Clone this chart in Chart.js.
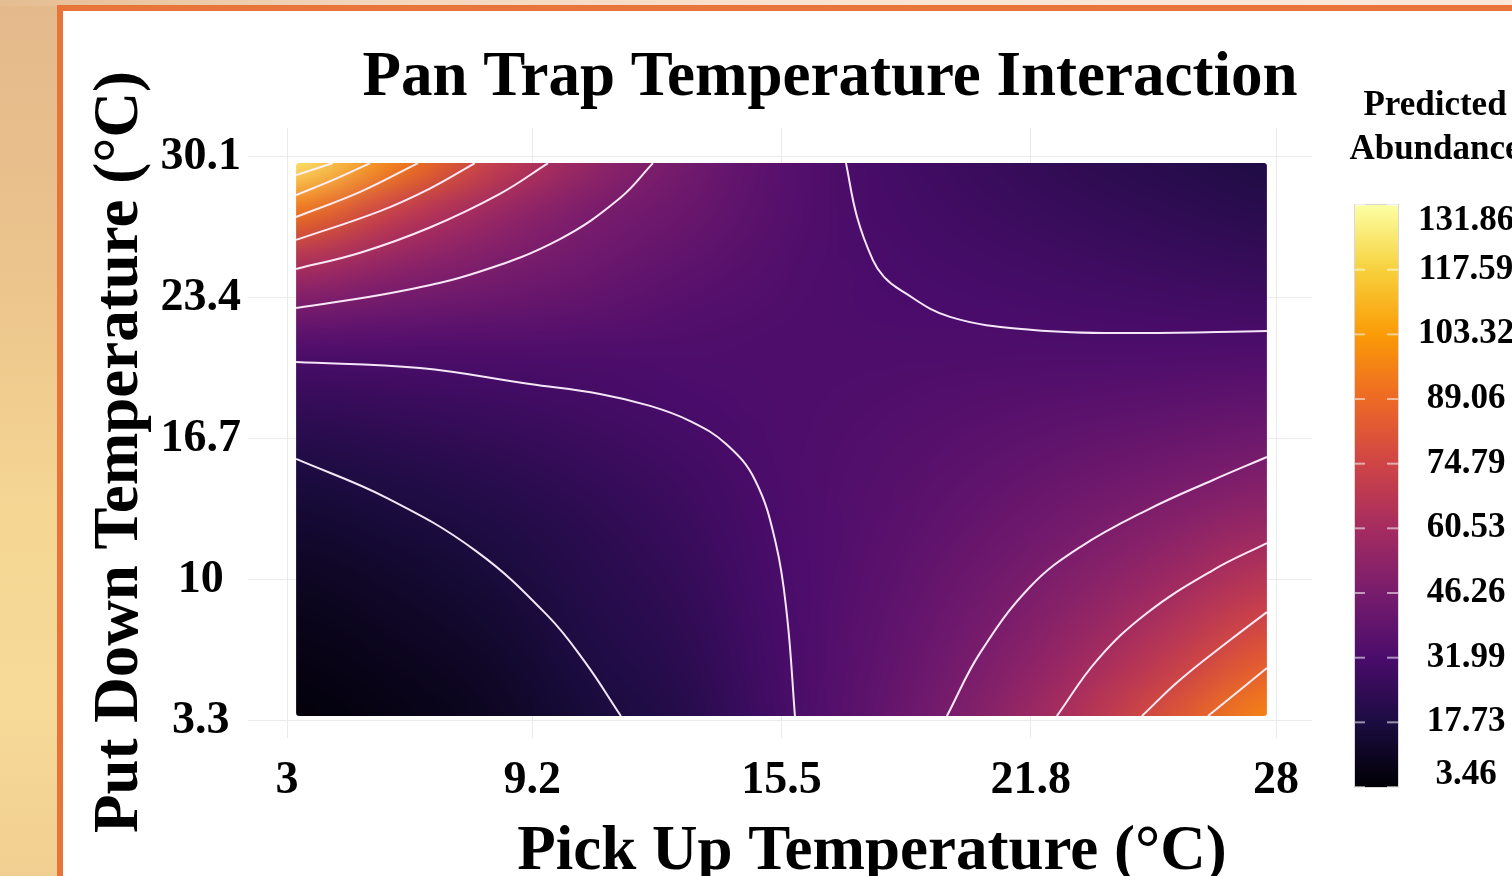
<!DOCTYPE html>
<html>
<head>
<meta charset="utf-8">
<title>Pan Trap Temperature Interaction</title>
<script src="https://cdn.jsdelivr.net/npm/chart.js@4.4.0/dist/chart.umd.min.js"></script>
<style>
  html, body { margin: 0; padding: 0; width: 1512px; height: 876px; overflow: hidden; }
  body {
    position: relative;
    background: linear-gradient(180deg, #e4b98c 0%, #ebc38c 30%, #f5d693 58%, #f7da98 80%, #f1cf92 100%);
  }
  #topStrip {
    position: absolute; left: 0; top: 0; width: 1512px; height: 6px;
    background: linear-gradient(90deg, #e6bd92 0%, #f3d6bd 25%, #fae5d4 60%, #fbe8da 100%);
  }
  #panel {
    position: absolute; left: 57px; top: 5px; width: 1470px; height: 890px;
    box-sizing: border-box; background: #fff;
    border-left: 6px solid #e8743a; border-top: 6px solid #e8743a;
  }
  #wrap { position: absolute; left: 0; top: 0; width: 1512px; height: 876px; }
</style>
</head>
<body>
<div id="topStrip"></div>
<div id="panel"></div>
<div id="wrap"><canvas id="chart" width="1512" height="876"></canvas></div>
<script>
const FONT = "'Liberation Serif', 'Times New Roman', serif";

// axis ticks
const xTicks = [3, 9.2, 15.5, 21.8, 28];
const yTicks = [3.3, 10, 16.7, 23.4, 30.1];

// grid of predicted abundance
const pickUpTemp = [3.23, 5.68, 8.14, 10.59, 13.05, 15.50, 17.95, 20.41, 22.86, 25.32, 27.77];
const putDownTemp = [3.53, 5.72, 7.91, 10.10, 12.29, 14.48, 16.67, 18.86, 21.05, 23.24, 25.43, 27.62, 29.81];
// one row per put down temperature, lowest first
const abundance = [
  [5.1, 7.3, 10.3, 16.0, 20.7, 30.6, 39.1, 49.4, 63.1, 79.8, 97.0],
  [6.4, 8.8, 11.9, 17.9, 22.4, 31.0, 38.3, 47.0, 58.2, 71.4, 86.5],
  [8.2, 10.7, 13.8, 19.6, 23.8, 31.5, 37.5, 44.7, 53.6, 63.9, 76.0],
  [10.3, 12.9, 16.0, 21.2, 25.2, 32.0, 36.7, 42.5, 49.5, 57.2, 66.6],
  [13.1, 15.6, 18.5, 22.6, 26.8, 32.4, 35.9, 40.4, 45.6, 51.2, 57.8],
  [16.6, 18.9, 21.5, 24.8, 28.4, 32.8, 35.2, 38.4, 42.1, 45.8, 50.2],
  [21.0, 22.9, 24.9, 27.4, 30.3, 33.1, 34.5, 36.5, 38.7, 41.0, 43.5],
  [26.5, 27.7, 28.8, 30.1, 32.0, 33.3, 33.8, 34.7, 35.7, 36.7, 37.8],
  [34.0, 33.8, 33.6, 33.5, 33.4, 33.3, 33.2, 33.1, 33.0, 33.0, 32.9],
  [48.4, 44.2, 41.7, 39.0, 35.8, 33.8, 32.4, 31.5, 30.5, 29.6, 28.7],
  [66.9, 56.5, 49.0, 43.5, 38.8, 34.6, 31.8, 30.0, 28.2, 26.5, 25.0],
  [93.9, 72.5, 58.0, 47.5, 42.0, 35.3, 31.1, 28.5, 26.0, 23.8, 21.7],
  [124.0, 96.3, 72.1, 55.1, 44.5, 36.0, 30.5, 27.1, 24.0, 21.4, 18.9]
];

// colorbar
const cbTicks = [3.46, 17.73, 31.99, 46.26, 60.53, 74.79, 89.06, 103.32, 117.59, 131.86];
const cbLabels = ['3.46', '17.73', '31.99', '46.26', '60.53', '74.79', '89.06', '103.32', '117.59', '131.86'];
const inferno = ['#000004', '#1b0c41', '#4a0c6b', '#781c6d', '#a52c60', '#cf4446', '#ed6925', '#fb9b06', '#f7d13d', '#fcffa4'];

// contour lines (pick up, put down)
const c17 = [[3.23, 15.75], [5.53, 13.89], [7.78, 11.37], [9.60, 8.28], [10.53, 6.10], [11.44, 3.53]];
const c32a = [[3.23, 20.36], [6.36, 20.07], [9.14, 19.31], [10.91, 18.84], [12.18, 18.27], [13.19, 17.55], [14.10, 16.46], [14.83, 14.75], [15.36, 11.71], [15.64, 8.28], [15.84, 3.53]];
const c32b = [[17.13, 29.81], [17.41, 27.25], [17.81, 25.20], [18.09, 24.40], [18.50, 23.78], [19.76, 22.50], [21.86, 21.88], [24.39, 21.73], [27.77, 21.83]];
const c46a = [[3.23, 22.92], [5.86, 23.72], [7.88, 24.66], [9.90, 26.20], [11.42, 28.15], [12.25, 29.81]];
const c46b = [[19.68, 3.53], [20.52, 6.53], [21.78, 9.66], [23.05, 11.56], [24.74, 13.32], [26.41, 14.75], [27.77, 15.84]];
const c61a = [[3.23, 24.78], [4.85, 25.55], [6.61, 26.75], [8.38, 28.35], [9.60, 29.81]];
const c61b = [[22.46, 3.53], [23.48, 6.19], [24.74, 8.43], [26.41, 10.47], [27.77, 11.75]];
const c75a = [[3.23, 26.16], [5.35, 27.53], [6.61, 28.60], [7.75, 29.81]];
const c75b = [[24.61, 3.53], [25.57, 5.24], [26.84, 7.14], [27.77, 8.47]];
const c89a = [[3.23, 27.25], [4.85, 28.44], [6.31, 29.81]];
const c89b = [[26.28, 3.53], [27.09, 4.77], [27.77, 5.81]];
const c103 = [[3.23, 28.29], [4.09, 28.95], [5.10, 29.81]];
const c118 = [[3.23, 29.24], [3.70, 29.53], [4.16, 29.81]];

function hexToRgb(h) {
  return [parseInt(h.slice(1, 3), 16), parseInt(h.slice(3, 5), 16), parseInt(h.slice(5, 7), 16)];
}

function colorFor(v) {
  const lo = cbTicks[0], hi = cbTicks[cbTicks.length - 1];
  let t = (v - lo) / (hi - lo);
  t = Math.max(0, Math.min(1, t)) * (inferno.length - 1);
  const i = Math.min(Math.floor(t), inferno.length - 2);
  const f = t - i;
  const a = hexToRgb(inferno[i]), b = hexToRgb(inferno[i + 1]);
  return [0, 1, 2].map(k => Math.round(a[k] + (b[k] - a[k]) * f));
}

// heatmap under the contour lines
const heatmapPlugin = {
  id: 'heatmap',
  beforeDatasetsDraw(chart) {
    const {ctx, scales: {x, y}} = chart;
    const nx = pickUpTemp.length, ny = putDownTemp.length;
    const off = document.createElement('canvas');
    off.width = nx;
    off.height = ny;
    const octx = off.getContext('2d');
    const img = octx.createImageData(nx, ny);
    for (let j = 0; j < ny; j++) {
      for (let i = 0; i < nx; i++) {
        const c = colorFor(abundance[j][i]);
        const k = ((ny - 1 - j) * nx + i) * 4;
        img.data[k] = c[0];
        img.data[k + 1] = c[1];
        img.data[k + 2] = c[2];
        img.data[k + 3] = 255;
      }
    }
    octx.putImageData(img, 0, 0);

    const left = x.getPixelForValue(pickUpTemp[0]);
    const right = x.getPixelForValue(pickUpTemp[nx - 1]);
    const top = y.getPixelForValue(putDownTemp[ny - 1]);
    const bottom = y.getPixelForValue(putDownTemp[0]);
    const cw = (right - left) / (nx - 1);
    const ch = (bottom - top) / (ny - 1);

    ctx.save();
    ctx.beginPath();
    if (ctx.roundRect) ctx.roundRect(left, top, right - left, bottom - top, 3);
    else ctx.rect(left, top, right - left, bottom - top);
    ctx.clip();
    ctx.imageSmoothingEnabled = true;
    ctx.imageSmoothingQuality = 'high';
    ctx.drawImage(off, left - cw / 2, top - ch / 2, cw * nx, ch * ny);
    ctx.restore();
  }
};

// titles and colorbar
const textPlugin = {
  id: 'texts',
  afterDraw(chart) {
    const ctx = chart.ctx;
    ctx.save();
    ctx.fillStyle = '#000';
    ctx.textAlign = 'center';
    ctx.textBaseline = 'alphabetic';

    ctx.font = 'bold 63px ' + FONT;
    ctx.fillText('Pan Trap Temperature Interaction', 830, 95);
    ctx.fillText('Pick Up Temperature (°C)', 872, 869);

    ctx.save();
    ctx.translate(137, 452);
    ctx.rotate(-Math.PI / 2);
    ctx.fillText('Put Down Temperature (°C)', 0, 0);
    ctx.restore();

    // colorbar
    const cbLeft = 1355, cbRight = 1398, cbTop = 205, cbBottom = 787;
    const lo = cbTicks[0], hi = cbTicks[cbTicks.length - 1];
    const grad = ctx.createLinearGradient(0, cbBottom, 0, cbTop);
    inferno.forEach((c, i) => grad.addColorStop(i / (inferno.length - 1), c));
    ctx.fillStyle = grad;
    ctx.fillRect(cbLeft, cbTop, cbRight - cbLeft, cbBottom - cbTop);
    ctx.strokeStyle = 'rgba(190,190,190,0.6)';
    ctx.lineWidth = 1;
    ctx.strokeRect(cbLeft - 0.5, cbTop - 0.5, cbRight - cbLeft + 1, cbBottom - cbTop + 1);

    ctx.font = 'bold 35px ' + FONT;
    ctx.textBaseline = 'middle';
    cbTicks.forEach((v, i) => {
      const py = cbBottom - (v - lo) / (hi - lo) * (cbBottom - cbTop);
      ctx.fillStyle = 'rgba(255,255,255,0.55)';
      ctx.fillRect(cbLeft, py - 1, 10, 2);
      ctx.fillRect(cbRight - 11, py - 1, 11, 2);
      ctx.fillStyle = '#000';
      const ly = Math.max(221, Math.min(775, py));
      ctx.fillText(cbLabels[i], 1466, ly);
    });

    ctx.textBaseline = 'alphabetic';
    ctx.fillText('Predicted', 1435, 115);
    ctx.fillText('Abundance', 1435, 159);
    ctx.restore();
  }
};

const contourLines = [c17, c32a, c32b, c46a, c46b, c61a, c61b, c75a, c75b, c89a, c89b, c103, c118];

const datasets = contourLines.map(pts => ({
  data: pts.map(p => ({x: p[0], y: p[1]})),
  showLine: true,
  borderColor: 'rgba(255,242,255,0.95)',
  borderWidth: 2,
  pointRadius: 0,
  tension: 0.4,
  fill: false
}));

const tickFont = {family: FONT, size: 46, weight: 'bold'};

new Chart(document.getElementById('chart'), {
  type: 'scatter',
  data: {datasets: datasets},
  options: {
    responsive: false,
    animation: false,
    devicePixelRatio: 1,
    layout: {padding: {top: 128, right: 200, left: 0, bottom: 0}},
    plugins: {
      legend: {display: false},
      tooltip: {enabled: false},
      title: {display: false}
    },
    scales: {
      x: {
        type: 'linear',
        min: 2.014,
        max: 28.91,
        afterBuildTicks: s => { s.ticks = xTicks.map(v => ({value: v})); },
        afterFit: s => { s.height = 138; },
        grid: {color: '#ebebeb', lineWidth: 1, drawTicks: false},
        border: {display: false},
        ticks: {color: '#000', padding: 16, font: tickFont, autoSkip: false, maxRotation: 0,
          callback: v => String(v)}
      },
      y: {
        type: 'linear',
        min: 2.486,
        max: 31.478,
        afterBuildTicks: s => { s.ticks = yTicks.map(v => ({value: v})); },
        afterFit: s => { s.width = 248; },
        grid: {color: '#ebebeb', lineWidth: 1, drawTicks: false},
        border: {display: false},
        ticks: {color: '#000', padding: 7, crossAlign: 'center', font: tickFont, autoSkip: false,
          callback: v => String(v)}
      }
    }
  },
  plugins: [heatmapPlugin, textPlugin]
});
</script>
</body>
</html>
